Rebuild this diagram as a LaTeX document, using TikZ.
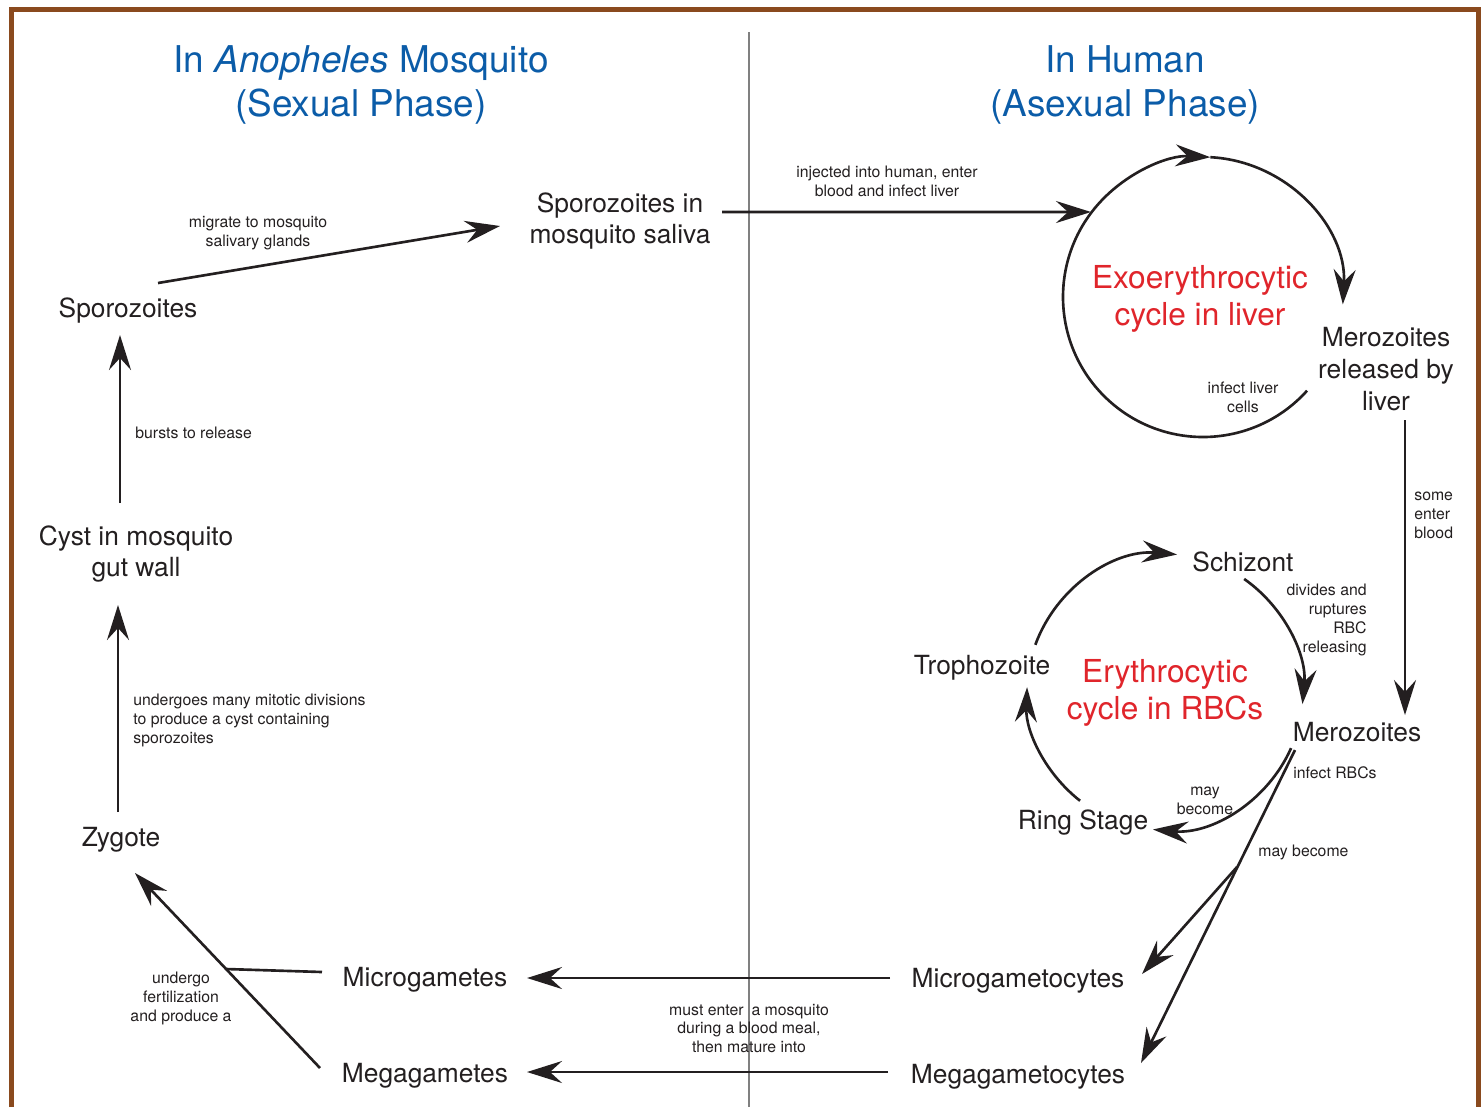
\documentclass[tikz,border=0pt]{standalone}
\usepackage{fontspec}
\setmainfont{TeX Gyre Heros}
\usetikzlibrary{arrows.meta,calc}
\definecolor{ink}{HTML}{231F20}
\definecolor{phaseblue}{HTML}{0B5CA8}
\definecolor{cyclered}{HTML}{E0252B}
\definecolor{frame}{HTML}{8A4A1E}

\begin{document}
\begin{tikzpicture}[
  x=0.02cm, y=0.02cm,
  stage/.style={
    text=ink,
    font=\fontsize{15}{18}\selectfont,
    align=center,
    inner sep=0pt,
    yshift=-0.06cm
  },
  note/.style={
    text=ink,
    font=\fontsize{9}{10.8}\selectfont,
    align=center,
    inner sep=0pt,
    yshift=-0.03cm
  },
  cyclename/.style={
    text=cyclered,
    font=\fontsize{18}{21.5}\selectfont,
    align=center,
    inner sep=0pt,
    yshift=-0.06cm
  },
  phase/.style={
    text=phaseblue,
    font=\fontsize{21}{25.5}\selectfont,
    align=center,
    inner sep=0pt,
    yshift=-0.06cm
  },
  wire/.style={draw=ink, line width=1.5pt},
  link/.style={wire, -{Stealth[length=7mm,width=4.4mm,inset=2.4mm]}}
]

\useasboundingbox (0,0) rectangle (1484,-1107);
\draw[frame, line width=2.8pt, line join=miter] (11.5,-1107) -- (11.5,-9.5) -- (1478.5,-9.5) -- (1478.5,-1107);
\draw[gray, line width=0.8pt] (749,-32) -- (749,-1107);

\node[phase] (mosquito) at (361,-82) {In \textit{Anopheles} Mosquito\\(Sexual Phase)};
\node[phase] (human) at (1125,-82) {In Human\\(Asexual Phase)};

\node[stage] (saliva) at (620,-218) {Sporozoites in\\mosquito saliva};
\node[stage] (sporo) at (128,-308) {Sporozoites};
\node[stage] (cyst) at (136,-551) {Cyst in mosquito\\gut wall};
\node[stage] (zygote) at (121,-837) {Zygote};
\node[stage] (micro) at (425,-977) {Microgametes};
\node[stage] (mega) at (425,-1073) {Megagametes};
\node[stage] (microcyte) at (1018,-978) {Microgametocytes};
\node[stage] (megacyte) at (1018,-1074) {Megagametocytes};
\node[stage] (released) at (1386,-366) {Merozoites\\released by\\liver};
\node[stage] (schizont) at (1243,-559) {Schizont};
\node[stage] (tropho) at (982,-665) {Trophozoite};
\node[stage] (mero) at (1357,-729) {Merozoites};
\node[stage] (ring) at (1083,-820) {Ring Stage};

\node[cyclename] (exo) at (1200,-296) {Exoerythrocytic\\cycle in liver};
\node[cyclename] (ery) at (1165,-690) {Erythrocytic\\cycle in RBCs};

\node[note] (migrate) at (258,-232) {migrate to mosquito\\salivary glands};
\node[note] (injected) at (887,-180) {injected into human, enter\\blood and infect liver};
\node[note, anchor=west] (bursts) at (135,-431) {bursts to release};
\node[note, anchor=west, align=left] (mitotic) at (133,-719) {undergoes many mitotic divisions\\to produce a cyst containing\\sporozoites};
\node[note] (fertil) at (181,-997) {undergo\\fertilization\\and produce a};
\node[note] (mealnote) at (749,-1027) {must enter\enspace a mosquito\\during a blood meal,\\then mature into};
\node[note] (infectliver) at (1243,-396) {infect liver\\cells};
\node[note, anchor=west, align=left] (someblood) at (1414,-514) {some\\enter\\blood};
\node[note, anchor=east, align=right] (divides) at (1367,-618) {divides and\\ruptures\\RBC\\releasing};
\node[note, anchor=west] (infectrbc) at (1293,-771) {infect RBCs};
\node[note] (maybe) at (1205,-799) {may\\become};
\node[note, anchor=west] (maybegam) at (1258,-851) {may become};

\coordinate (liver) at (1203,-297);
\coordinate (rbc) at (1165,-692);
\coordinate (fork) at (1237,-867);
\coordinate (fuse) at (226,-969);

\draw[link] ($(sporo)+(30,28)$) -- ($(saliva)+(-120,-5)$);
\draw[link] ($(saliva)+(102,9)$) -- ($(liver)+(-112,85)$);
\draw[link] ($(liver)+(-42:140)$) arc[start angle=-42, end angle=-273, radius=140];
\draw[link] ($(liver)+(87:140)$) arc[start angle=87, end angle=-3, radius=140];
\draw[link] ($(released)+(19,-51)$) -- ($(mero)+(48,17)$);

\draw[link] ($(rbc)+(160:138)$) arc[start angle=160, end angle=85, radius=138];
\draw[link] ($(rbc)+(55:138)$) arc[start angle=55, end angle=-5, radius=138];
\draw[link] ($(rbc)+(-24:138)$) arc[start angle=-24, end angle=-95, radius=138];
\draw[link] ($(rbc)+(-128:138)$) arc[start angle=-128, end angle=-182, radius=138];

\draw[link] ($(mero)+(-62,-18)$) -- ($(megacyte)+(123,14)$);
\draw[link] (fork) -- ($(microcyte)+(124,7)$);
\draw[link] ($(microcyte)+(-128,3)$) -- ($(micro)+(102,2)$);
\draw[link] ($(megacyte)+(-130,5)$) -- ($(mega)+(102,4)$);

\draw[link] ($(mega)+(-105,8)$) -- ($(zygote)+(14,-33)$);
\draw[wire] ($(micro)+(-103,8)$) -- (fuse);
\draw[link] ($(zygote)+(-3,28)$) -- ($(cyst)+(-18,-51)$);
\draw[link] ($(cyst)+(-16,51)$) -- ($(sporo)+(-8,-24)$);

\end{tikzpicture}
\end{document}
